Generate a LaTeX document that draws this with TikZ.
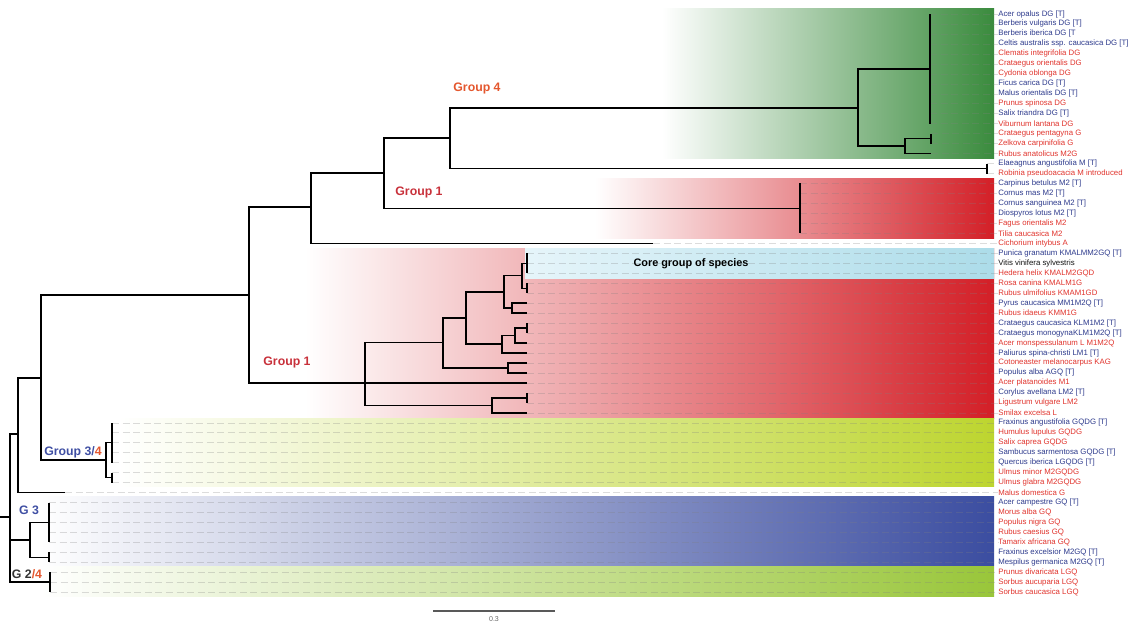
\documentclass[tikz,border=0pt]{standalone}
\usepackage{fontspec}
\setmainfont{Liberation Sans}
\definecolor{LblBlue}{HTML}{2D3A8C}
\definecolor{LblRed}{HTML}{E0332C}
\definecolor{LblBlack}{HTML}{111111}
\definecolor{GrpOrange}{HTML}{E4572E}
\definecolor{GrpRed}{HTML}{C8313B}
\definecolor{GrpBlue}{HTML}{3F4FA3}
\definecolor{BandGreen}{HTML}{3A8B3D}
\definecolor{BandGreenMid}{HTML}{93C672}
\definecolor{BandRed}{HTML}{D31F27}
\definecolor{BandRedMid}{HTML}{DF6E72}
\definecolor{BandCyanL}{HTML}{E6F5FA}
\definecolor{BandCyanR}{HTML}{ACDCE9}
\definecolor{BandLime}{HTML}{BDD52F}
\definecolor{BandLimeMid}{HTML}{DDE7A2}
\definecolor{BandBlue}{HTML}{3B4DA0}
\definecolor{BandBlueMid}{HTML}{6B69AF}
\definecolor{BandLeaf}{HTML}{99C63A}
\definecolor{BandLeafMid}{HTML}{C4DE92}
\tikzset{
  br/.style={line width=0.8pt,black},
  lead/.style={gray,line width=0.3pt,dash pattern=on 4pt off 2pt,opacity=0.28},
  lbl/.style={anchor=west,inner sep=0pt,font=\fontsize{4.45}{5}\selectfont},
  grp/.style={inner sep=0pt,font=\bfseries\fontsize{7}{8}\selectfont},
}

\begin{document}
\begin{tikzpicture}[x=0.02cm,y=-0.02cm]
  \useasboundingbox (0,0) rectangle (1137,623);
  % colour bands
  \shade[left color=white,middle color=BandGreenMid,right color=BandGreen] (662,8) rectangle (994,158);
  \shade[left color=white,middle color=BandRedMid,right color=BandRed] (595,178) rectangle (994,238);
  \shade[left color=white,middle color=BandRedMid,right color=BandRed] (305,248) rectangle (994,418);
  \shade[left color=BandCyanL,right color=BandCyanR] (525,248) rectangle (994,278);
  \shade[left color=white,middle color=BandLimeMid,right color=BandLime] (118,418) rectangle (994,486);
  \shade[left color=white,middle color=BandBlueMid,right color=BandBlue] (40,496) rectangle (994,565);
  \shade[left color=white,middle color=BandLeafMid,right color=BandLeaf] (40,566) rectangle (994,596);

  % leaves: tip, label, leader
  \foreach \i/\tx/\c/\t in {
    1/930/Blue/{Acer opalus DG [T]},
    2/930/Blue/{Berberis vulgaris DG [T]},
    3/930/Blue/{Berberis iberica DG [T},
    4/930/Blue/{Celtis australis ssp. caucasica DG [T]},
    5/930/Red/{Clematis integrifolia DG},
    6/930/Red/{Crataegus orientalis DG},
    7/930/Red/{Cydonia oblonga DG},
    8/930/Blue/{Ficus carica DG [T]},
    9/930/Blue/{Malus orientalis DG [T]},
    10/930/Red/{Prunus spinosa DG},
    11/930/Blue/{Salix triandra DG [T]},
    12/930/Red/{Viburnum lantana DG},
    13/931/Red/{Crataegus pentagyna G},
    14/931/Red/{Zelkova carpinifolia G},
    15/931/Red/{Rubus anatolicus M2G},
    16/987/Blue/{Elaeagnus angustifolia M [T]},
    17/987/Red/{Robinia pseudoacacia M introduced},
    18/800/Blue/{Carpinus betulus M2 [T]},
    19/800/Blue/{Cornus mas M2 [T]},
    20/800/Blue/{Cornus sanguinea M2 [T]},
    21/800/Blue/{Diospyros lotus M2 [T]},
    22/800/Red/{Fagus orientalis M2},
    23/800/Red/{Tilia caucasica M2},
    24/653/Red/{Cichorium intybus A},
    25/527/Blue/{Punica granatum KMALMM2GQ [T]},
    26/527/Black/{Vitis vinifera sylvestris},
    27/527/Red/{Hedera helix KMALM2GQD},
    28/527/Red/{Rosa canina KMALM1G},
    29/527/Red/{Rubus ulmifolius KMAM1GD},
    30/527/Blue/{Pyrus caucasica MM1M2Q [T]},
    31/527/Red/{Rubus idaeus KMM1G},
    32/527/Blue/{Crataegus caucasica KLM1M2 [T]},
    33/527/Blue/{Crataegus monogynaKLM1M2Q [T]},
    34/527/Red/{Acer monspessulanum L M1M2Q},
    35/527/Blue/{Paliurus spina-christi LM1 [T]},
    36/527/Red/{Cotoneaster melanocarpus KAG},
    37/527/Blue/{Populus alba AGQ [T]},
    38/527/Red/{Acer platanoides M1},
    39/527/Blue/{Corylus avellana LM2 [T]},
    40/527/Red/{Ligustrum vulgare LM2},
    41/527/Red/{Smilax excelsa L},
    42/112/Blue/{Fraxinus angustifolia GQDG [T]},
    43/112/Red/{Humulus lupulus GQDG},
    44/112/Red/{Salix caprea GQDG},
    45/112/Blue/{Sambucus sarmentosa GQDG [T]},
    46/112/Blue/{Quercus iberica LGQDG [T]},
    47/112/Red/{Ulmus minor M2GQDG},
    48/112/Red/{Ulmus glabra M2GQDG},
    49/65/Red/{Malus domestica G},
    50/49/Blue/{Acer campestre GQ [T]},
    51/49/Red/{Morus alba GQ},
    52/49/Red/{Populus nigra GQ},
    53/49/Red/{Rubus caesius GQ},
    54/49/Red/{Tamarix africana GQ},
    55/49/Blue/{Fraxinus excelsior M2GQ [T]},
    56/49/Blue/{Mespilus germanica M2GQ [T]},
    57/50/Red/{Prunus divaricata LGQ},
    58/50/Red/{Sorbus aucuparia LGQ},
    59/50/Red/{Sorbus caucasica LGQ}}{
    \coordinate (t\i) at (\tx,{14+9.97*(\i-1)});
    \node[lbl,text=Lbl\c] (l\i) at (998,{14+9.97*(\i-1)}) {\t};
    \draw[lead] (t\i) -- (l\i.west);
  }

  % inner nodes of the tree
  \coordinate (n0s) at (0,517);
  \coordinate (n0) at (10,517);
  \coordinate (n1) at (18,434);
  \coordinate (n2) at (41,378);
  \coordinate (n3) at (249,295);
  \coordinate (n4) at (311,207);
  \coordinate (n5) at (384,173);
  \coordinate (n6) at (450,138);
  \coordinate (n7) at (987,168.6);
  \coordinate (g4) at (858,108);
  \coordinate (g4a) at (930,68.8);
  \coordinate (g4b) at (905,146);
  \coordinate (g4c) at (931,138.6);
  \coordinate (g1a) at (800,208.4);
  \coordinate (g1b) at (365,383);
  \coordinate (c1) at (443,342.5);
  \coordinate (c2) at (466,318);
  \coordinate (c3) at (504,292);
  \coordinate (c4) at (522,275.7);
  \coordinate (core) at (527,263.3);
  \coordinate (c4b) at (527,288.2);
  \coordinate (c3b) at (512,308.1);
  \coordinate (c5) at (502,344);
  \coordinate (c6) at (515,335.6);
  \coordinate (c6b) at (527,328.1);
  \coordinate (c7) at (508,368);
  \coordinate (c9) at (492,405.4);
  \coordinate (c9b) at (527,397.9);
  \coordinate (g34) at (106,460);
  \coordinate (g34a) at (112,442.6);
  \coordinate (g34b) at (112,477.5);
  \coordinate (g3) at (30,540);
  \coordinate (g3a) at (49,522.5);
  \coordinate (g3b) at (49,557.4);
  \coordinate (g24) at (50,582);

  % branches
  \draw[br] (n0s) -- (n0);
  \foreach \a/\b in {n0/n1,n0/g3,n0/g24,n1/n2,n1/t49,n2/n3,n2/g34,n3/n4,n3/g1b,
    n4/n5,n4/t24,n5/n6,n5/g1a,n6/g4,n6/n7,g4/g4a,g4/g4b,g4b/g4c,g4b/t15,
    g1b/c1,g1b/t38,g1b/c9,c1/c2,c1/c7,c2/c3,c2/c5,c3/c4,c3/c3b,c4/core,c4/c4b,
    c5/c6,c5/t35,c6/c6b,c6/t34,c9/c9b,c9/t41,g34/g34a,g34/g34b,g3/g3a,g3/g3b}
    \draw[br] (\a) |- (\b);
  \foreach \a/\b in {g4a/1,g4a/2,g4a/3,g4a/4,g4a/5,g4a/6,g4a/7,g4a/8,g4a/9,g4a/10,
    g4a/11,g4a/12,g4c/13,g4c/14,n7/16,n7/17,g1a/18,g1a/19,g1a/20,g1a/21,g1a/22,
    g1a/23,core/25,core/26,core/27,c4b/28,c4b/29,c3b/30,c3b/31,c6b/32,c6b/33,
    c7/36,c7/37,c9b/39,c9b/40,g34a/42,g34a/43,g34a/44,g34a/45,g34a/46,g34b/47,
    g34b/48,g3a/50,g3a/51,g3a/52,g3a/53,g3a/54,g3b/55,g3b/56,g24/57,g24/58,g24/59}
    \draw[br] (\a) |- (t\b);

  % group labels
  \node[grp,text=GrpOrange] (grp4) at (477,88) {Group 4};
  \node[grp,text=GrpRed] (grp1a) at (419,192) {Group 1};
  \node[grp,text=GrpRed] (grp1b) at (287,362) {Group 1};
  \node[inner sep=0pt,font=\bfseries\fontsize{6.2}{7}\selectfont] (coregrp) at (691,264) {Core group of species};
  \node[grp,text=GrpBlue] (grp34) at (73,452) {Group 3/\textcolor{GrpOrange}{4}};
  \node[grp,text=GrpBlue] (grp3) at (29,510) {G 3};
  \node[grp,text=black!80] (grp24) at (27,574) {G 2\textcolor{GrpOrange}{/4}};

  % scale bar
  \coordinate (sb1) at (433,611);
  \coordinate (sb2) at (555,611);
  \draw[black!65,line width=0.9pt] (sb1) -- (sb2);
  \node[inner sep=0pt,text=black!60,font=\fontsize{4}{4}\selectfont] (sbl) at (494,619) {0.3};
\end{tikzpicture}
\end{document}
